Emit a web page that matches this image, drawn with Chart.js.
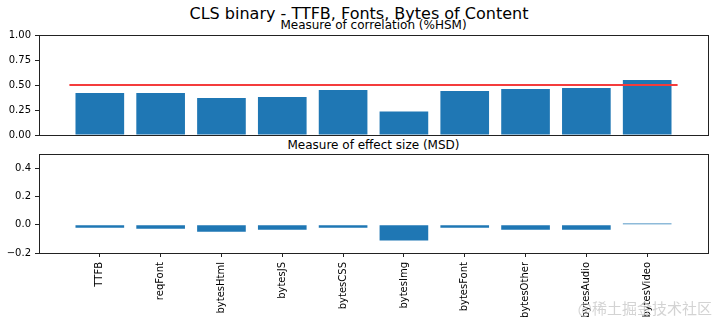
<!DOCTYPE html>
<html>
<head>
<meta charset="utf-8">
<script src="https://cdn.jsdelivr.net/npm/chart.js@4"></script>
<style>
    body { margin: 0; width: 718px; height: 323px; background: #fff; position: relative; overflow: hidden; font-family: "DejaVu Sans", sans-serif; }
    canvas { position: absolute; left: 0; }
    .title { position: absolute; left: 0; white-space: nowrap; color: #000; text-align: center; }
    #mark { position: absolute; right: 6px; top: 299px; font: 15px/18px "Noto Sans CJK SC", sans-serif; color: rgba(200, 200, 200, 0.8); white-space: nowrap; }
</style>
</head>
<body>
<div class="title" id="supTitle" style="top:5px; width:718px; font-size:16px; line-height:18.6px;">CLS binary - TTFB, Fonts, Bytes of Content</div>
<div class="title" style="top:18px; left:39px; width:669px; font-size:12px; line-height:14px;">Measure of correlation (%HSM)</div>
<div class="title" style="top:138px; left:39px; width:669px; font-size:12px; line-height:14px;">Measure of effect size (MSD)</div>
<canvas id="chartTop" width="718" height="145" style="top:0"></canvas>
<canvas id="chartBottom" width="718" height="183" style="top:140px"></canvas>
<div id="mark">@稀土掘金技术社区</div>
<script>
// data
const categories = ["TTFB", "reqFont", "bytesHtml", "bytesJS", "bytesCSS", "bytesImg", "bytesFont", "bytesOther", "bytesAudio", "bytesVideo"];
const correlationValues = [0.42, 0.42, 0.37, 0.38, 0.45, 0.236, 0.44, 0.46, 0.47, 0.55];
const effectSizeValues = [-0.021, -0.028, -0.05, -0.035, -0.021, -0.112, -0.021, -0.035, -0.035, 0.008];
const thresholdValue = 0.5;
const thresholdSpan = [-0.5, 9.5];
const topTicks = [0, 0.25, 0.5, 0.75, 1.0];
const bottomTicks = [-0.2, 0, 0.2, 0.4];

const barColor = "#1f77b4";
const font = { family: "DejaVu Sans", size: 10 };

// matplotlib style box around the axes
const framePlugin = {
    id: "frame",
    afterDraw(chart) {
        const a = chart.chartArea;
        const ctx = chart.ctx;
        ctx.save();
        ctx.strokeStyle = "#222";
        ctx.lineWidth = 1;
        ctx.strokeRect(Math.round(a.left) + 0.5, Math.round(a.top) + 0.5, Math.round(a.right - a.left), Math.round(a.bottom - a.top));
        ctx.restore();
    }
};

function yScale(min, max, ticks, fmt) {
    return {
        min: min,
        max: max,
        afterFit: scale => { scale.width = 39; },
        afterBuildTicks: scale => { scale.ticks = ticks.map(v => ({ value: v })); },
        border: { display: false },
        grid: { drawOnChartArea: false, drawTicks: true, tickLength: 4, color: "#222" },
        ticks: { color: "#000", font: font, padding: 4, callback: fmt }
    };
}

const barData = values => values.map((v, i) => ({ x: i, y: v }));

new Chart(document.getElementById("chartTop"), {
    type: "bar",
    data: {
        datasets: [
            {
                type: "line",
                data: thresholdSpan.map(x => ({ x: x, y: thresholdValue })),
                borderColor: "#f43c3c",
                borderWidth: 2,
                pointRadius: 0,
                order: 0
            },
            {
                data: barData(correlationValues),
                backgroundColor: barColor,
                borderWidth: 0,
                barPercentage: 0.8,
                categoryPercentage: 1,
                order: 1
            }
        ]
    },
    options: {
        responsive: false,
        animation: false,
        layout: { padding: { left: 0, right: 10, top: 35, bottom: 1 } },
        plugins: { legend: { display: false }, tooltip: { enabled: false } },
        scales: {
            x: { type: "linear", min: -1, max: 10, offset: false, display: false },
            y: yScale(0, 1, topTicks, v => v.toFixed(2))
        }
    },
    plugins: [framePlugin]
});

new Chart(document.getElementById("chartBottom"), {
    type: "bar",
    data: {
        datasets: [{
            data: barData(effectSizeValues),
            backgroundColor: barColor,
            borderWidth: 0,
            barPercentage: 0.8,
            categoryPercentage: 1
        }]
    },
    options: {
        responsive: false,
        animation: false,
        layout: { padding: { left: 0, right: 10, top: 14, bottom: 0 } },
        plugins: { legend: { display: false }, tooltip: { enabled: false } },
        scales: {
            x: {
                type: "linear",
                min: -1,
                max: 10,
                offset: false,
                afterFit: scale => { scale.height = 70; },
                afterBuildTicks: scale => { scale.ticks = categories.map((c, i) => ({ value: i })); },
                border: { display: false },
                grid: { offset: false, drawOnChartArea: false, drawTicks: true, tickLength: 4, color: "#222" },
                ticks: {
                    color: "#000",
                    font: font,
                    padding: 5,
                    autoSkip: false,
                    minRotation: 90,
                    maxRotation: 90,
                    callback: v => categories[v]
                }
            },
            y: yScale(-0.2, 0.5, bottomTicks, v => v < 0 ? "\u2212" + Math.abs(v).toFixed(1) : v.toFixed(1))
        }
    },
    plugins: [framePlugin]
});
</script>
</body>
</html>
